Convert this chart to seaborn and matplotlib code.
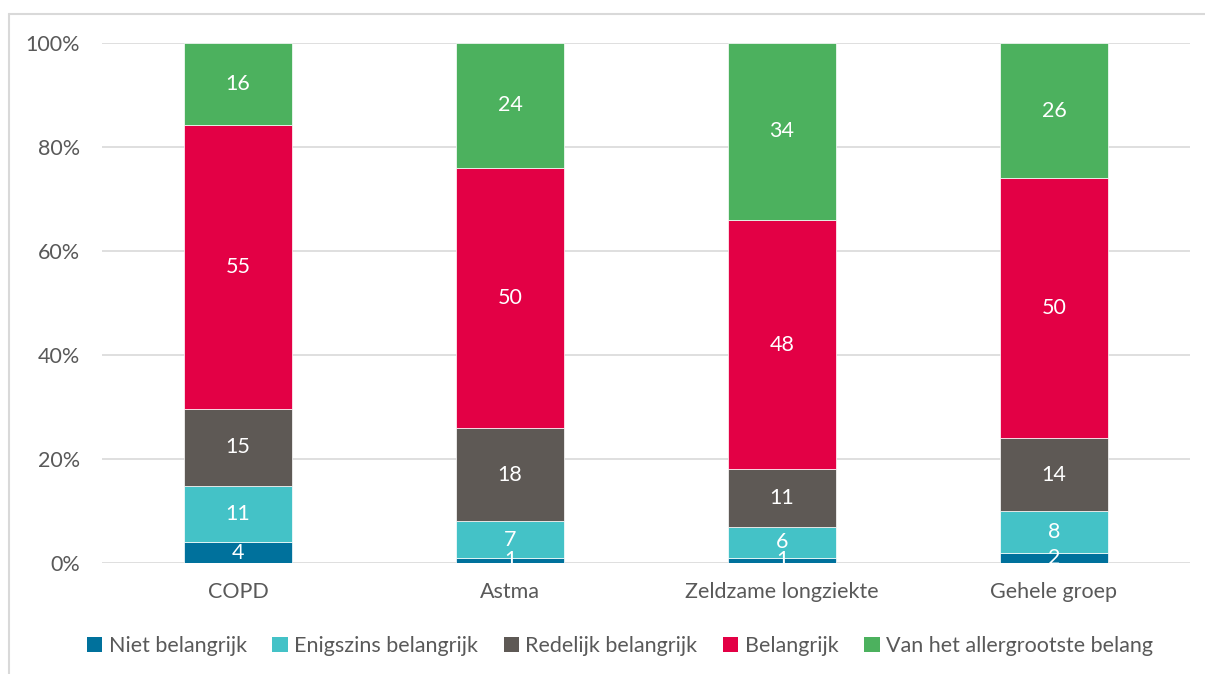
import matplotlib
matplotlib.use("Agg")
import matplotlib.pyplot as plt
from matplotlib.lines import Line2D
from matplotlib.patches import Patch
import numpy as np
import seaborn as sns

categories = ["COPD", "Astma", "Zeldzame longziekte", "Gehele groep"]
series_names = ["Niet belangrijk", "Enigszins belangrijk", "Redelijk belangrijk",
                "Belangrijk", "Van het allergrootste belang"]
niet = [4, 1, 1, 2]
enigszins = [11, 7, 6, 8]
redelijk = [15, 18, 11, 14]
belangrijk = [55, 50, 48, 50]
allergrootste = [16, 24, 34, 26]
colors = ["#00719C", "#44C2C7", "#5E5955", "#E30045", "#4CB15E"]
yticklabels = ["0%", "20%", "40%", "60%", "80%", "100%"]

sns.set_theme(style="white")
plt.rcParams["font.family"] = ["Lato", "DejaVu Sans"]

series = [niet, enigszins, redelijk, belangrijk, allergrootste]
data = np.array(series, dtype=float)
totals = data.sum(axis=0)
shares = data / totals

fig = plt.figure(figsize=(12.05, 6.74), dpi=100)
ax = fig.add_axes([102/1205, 1-563/674, (1190-102)/1205, (563-43)/674])

bottom = np.zeros(len(categories))
for i, name in enumerate(series_names):
    sns.barplot(x=categories, y=shares[i], bottom=bottom, color=colors[i],
                width=0.397, ax=ax, edgecolor="white", linewidth=0.5,
                saturation=1, zorder=3)
    for j in range(len(categories)):
        ax.text(j, bottom[j] + shares[i][j] / 2, f"{series[i][j]:g}",
                ha="center", va="center", color="white", fontsize=15.5, zorder=5)
    bottom = bottom + shares[i]

ax.set_ylim(0, 1)
ax.set_xlim(-0.5, len(categories) - 0.5)
ax.set_yticks(np.linspace(0, 1, 6))
ax.set_yticklabels(yticklabels)
ax.yaxis.grid(True, color="#D9D9D9", linewidth=1.2, zorder=0)
ax.xaxis.grid(False)
for s in ax.spines.values():
    s.set_visible(False)
ax.tick_params(axis="both", length=0, labelsize=15.5, colors="#595959")
ax.tick_params(axis="x", pad=14)
ax.tick_params(axis="y", pad=16)
ax.set_xlabel("")
ax.set_ylabel("")

handles = [Patch(facecolor=c, edgecolor="none") for c in colors]
fig.legend(handles, series_names, loc="center", bbox_to_anchor=(0.5145, 1-646/674),
           ncol=5, frameon=False, fontsize=15.5, labelcolor="#595959",
           handlelength=0.7, handleheight=0.7, handletextpad=0.3,
           columnspacing=1.2)

fig.add_artist(Line2D([9/1205, 9/1205], [0, 1-14/674], transform=fig.transFigure,
                      color="#D9D9D9", linewidth=1.5))
fig.add_artist(Line2D([9/1205, 1], [1-14/674, 1-14/674], transform=fig.transFigure,
                      color="#D9D9D9", linewidth=1.5))

fig.savefig("out.png", dpi=100)
